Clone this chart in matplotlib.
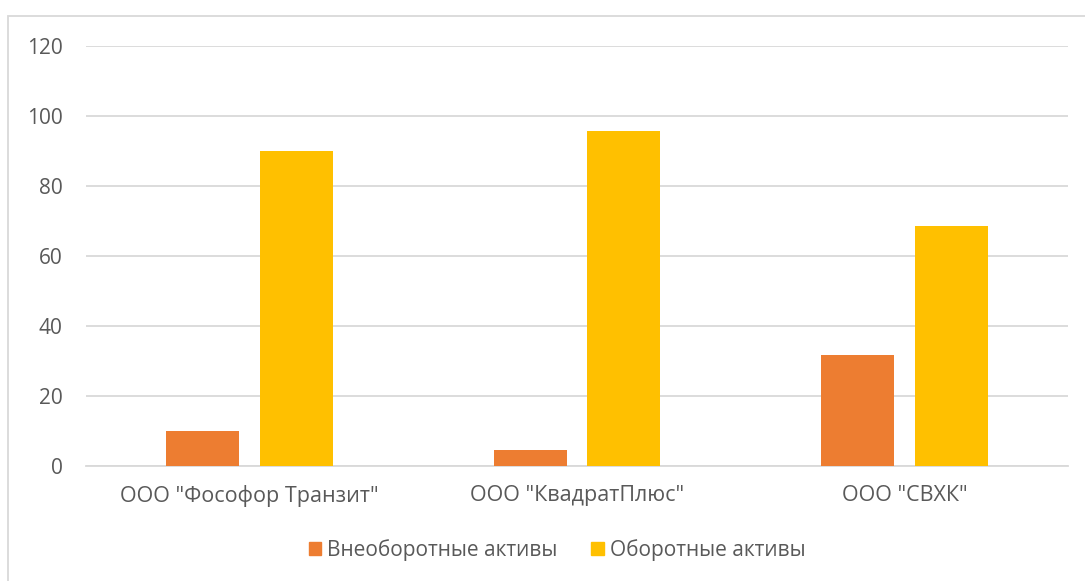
import matplotlib.pyplot as plt
import numpy as np
from matplotlib.patches import Rectangle, Patch

categories = ['ООО "Фософор Транзит"', 'ООО "КвадратПлюс"', 'ООО "СВХК"']
non_current = [10.0, 4.5, 31.6]
current = [90.0, 95.5, 68.4]
series_names = ['Внеоборотные активы', 'Оборотные активы']

plt.rcParams['font.family'] = ['Open Sans', 'DejaVu Sans']
text_col = '#595959'
grid_col = '#d9d9d9'

fig = plt.figure(figsize=(10.85, 5.81), dpi=100)
ax = fig.add_axes([86/1085, 1 - 465.5/581, (1068-86)/1085, 420/581])

x = np.arange(len(categories))
w = 0.223
ax.bar(x - 0.143, non_current, w, color='#ED7D31', zorder=3)
ax.bar(x + 0.143, current, w, color='#FFC000', zorder=3)

ax.set_xlim(-0.5, 2.5)
ax.set_ylim(0, 120)
ax.set_yticks(range(0, 121, 20))
ax.set_xticks(x)
ax.set_xticklabels(categories)
ax.grid(axis='y', color=grid_col, linewidth=1.3, zorder=0)
for s in ['top', 'right', 'left']:
    ax.spines[s].set_visible(False)
ax.spines['bottom'].set_color(grid_col)
ax.spines['bottom'].set_linewidth(1.3)
ax.tick_params(axis='y', length=0, labelsize=15, colors=text_col, pad=17)
ax.tick_params(axis='x', length=0, labelsize=15.5, colors=text_col, pad=14)

handles = [Patch(color='#ED7D31'), Patch(color='#FFC000')]
fig.legend(handles, series_names, loc='center', bbox_to_anchor=(557/1085, 1 - 550/581),
           ncol=2, frameon=False, fontsize=15, labelcolor=text_col,
           handlelength=0.6, handleheight=0.6, handletextpad=0.3, columnspacing=1.6)

fig.patches.append(Rectangle((8/1085, -0.1), 1.1, (581-16)/581 + 0.1, transform=fig.transFigure,
                             fill=False, edgecolor=grid_col, linewidth=1.3))

plt.savefig('out.png', dpi=100)
